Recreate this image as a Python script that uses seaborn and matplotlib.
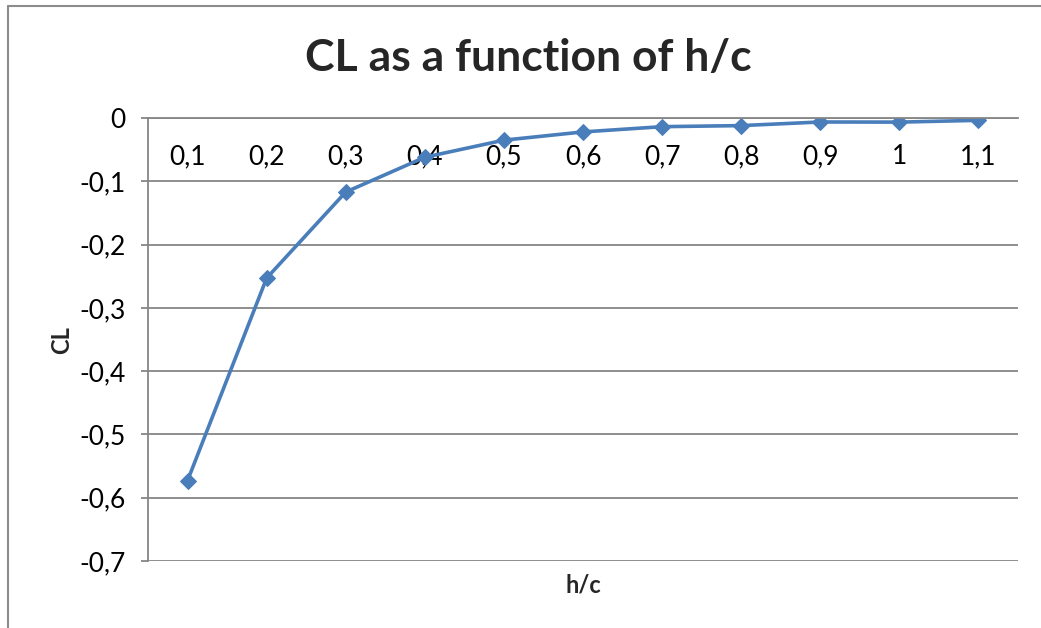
import matplotlib
matplotlib.use("Agg")
import matplotlib.pyplot as plt
import matplotlib.ticker as mticker
from matplotlib.lines import Line2D
import seaborn as sns
import pandas as pd

h_c = [0.1, 0.2, 0.3, 0.4, 0.5, 0.6, 0.7, 0.8, 0.9, 1.0, 1.1]
h_c_labels = ["0,1", "0,2", "0,3", "0,4", "0,5", "0,6", "0,7", "0,8", "0,9", "1", "1,1"]
cl_values = [-0.573, -0.253, -0.117, -0.062, -0.035, -0.022, -0.0137, -0.012, -0.0063, -0.0065, -0.0037]
y_ticks = [0, -0.1, -0.2, -0.3, -0.4, -0.5, -0.6, -0.7]

sns.set_theme(style="white")
plt.rcParams['font.family'] = ['Lato', 'DejaVu Sans']

W, H = 1041, 628
fig = plt.figure(figsize=(W / 100, H / 100), dpi=100)
ax = fig.add_axes([148 / W, 1 - 561 / H, (1018 - 148) / W, (561 - 118) / H])

df = pd.DataFrame({"h/c": h_c_labels, "CL": cl_values})
sns.lineplot(data=df, x="h/c", y="CL", ax=ax, color="#4a7ebb", linewidth=2.6,
             marker="D", markersize=8.5, markeredgecolor="#4a7ebb", sort=False)

ax.set_xlim(-0.5, len(h_c) - 0.5)
ax.set_ylim(-0.7, 0)
ax.set_yticks(y_ticks)
ax.yaxis.set_major_formatter(mticker.FuncFormatter(lambda v, p: ("%g" % round(v, 2)).replace(".", ",")))

grid_col = "#868686"
ax.grid(axis="y", color=grid_col, linewidth=1.3)
ax.grid(axis="x", visible=False)
ax.set_axisbelow(True)

for s in ["top", "right"]:
    ax.spines[s].set_visible(False)
ax.spines["bottom"].set_position(("data", 0))
ax.spines["bottom"].set_color(grid_col)
ax.spines["bottom"].set_linewidth(1.3)
ax.spines["left"].set_color(grid_col)
ax.spines["left"].set_linewidth(1.3)

ax.tick_params(axis="x", length=0, pad=19, labelsize=19, labelcolor="black")
ax.tick_params(axis="y", left=True, length=5, width=1.3, color=grid_col, pad=11,
               labelsize=19, labelcolor="black")

ax.set_xlabel("")
ax.set_ylabel("")
fig.text(583 / W, 1 - 585 / H, "h/c", ha="center", va="center", fontsize=17, fontweight="bold")
fig.text(62 / W, 1 - 340 / H, "CL", ha="center", va="center", rotation=90, fontsize=17, fontweight="bold")
fig.text(528 / W, 1 - 58 / H, "CL as a function of h/c", ha="center", va="center",
         fontsize=32, fontweight="bold")

border = "#8c8c8c"
fig.add_artist(Line2D([8 / W, 8 / W], [1 - 6 / H, 0], transform=fig.transFigure, color=border, linewidth=1.5))
fig.add_artist(Line2D([8 / W, 1], [1 - 6 / H, 1 - 6 / H], transform=fig.transFigure, color=border, linewidth=1.5))

fig.savefig("out.png", dpi=100)
